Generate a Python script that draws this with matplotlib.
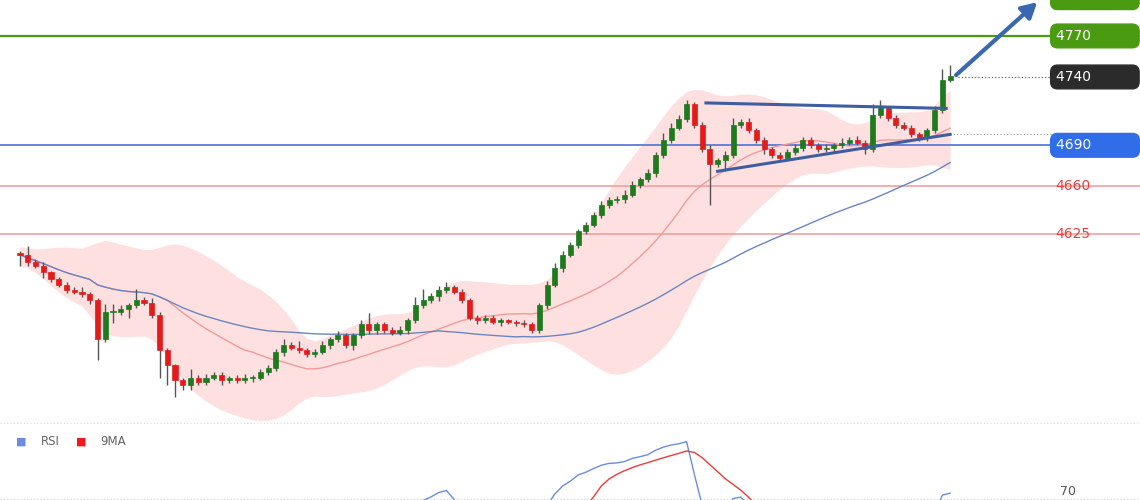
import matplotlib
matplotlib.use("Agg")
import matplotlib.pyplot as plt
import numpy as np
import pandas as pd

closes = [4610,4605,4602,4597,4592,4588,4584,4583,4581,4577,
          4548,4568,4568,4570,4573,4577,4575,4566,4540,4529,
          4518,4515,4520,4517,4520,4522,4518,4520,4518,4520,
          4520,4524,4527,4539,4544,4542,4540,4537,4539,4544,
          4548,4551,4544,4551,4559,4555,4559,4555,4553,4555,
          4562,4573,4577,4580,4584,4586,4583,4577,4564,4562,
          4564,4561,4562,4561,4560,4559,4555,4573,4588,4600,
          4610,4617,4627,4632,4639,4646,4650,4651,4654,4661,
          4665,4670,4683,4694,4703,4709,4720,4705,4687,4676,
          4679,4683,4705,4707,4701,4694,4687,4683,4681,4685,
          4688,4694,4690,4687,4688,4690,4692,4694,4692,4687,
          4712,4717,4710,4705,4703,4698,4695,4701,4716,4738,
          4741]
wick_up = [2,6,2,3,1,2,2,2,3,2, 1,6,6,3,2,8,2,3,2,2,
           1,2,6,2,3,2,2,1,2,3, 2,2,2,2,4,2,5,2,2,3,
           2,3,2,2,3,8,2,2,2,3, 2,6,8,2,3,4,2,2,1,2,
           2,2,2,1,1,2,2,2,3,4, 3,2,2,2,2,3,2,2,3,3,
           2,3,2,5,3,3,3,2,2,3, 2,3,5,2,3,2,2,2,2,2,
           3,2,2,2,3,2,3,2,3,2, 8,6,2,2,2,2,2,2,3,8, 8]
wick_dn = [8,3,2,4,2,2,2,2,2,3, 15,2,8,2,6,2,2,2,20,14,
           12,4,4,2,2,2,3,2,2,2, 3,2,2,2,3,2,2,2,2,2,
           3,2,2,4,2,3,3,2,2,2, 3,2,2,2,4,2,2,2,2,3,
           2,2,3,2,2,2,2,2,3,2, 3,2,2,2,2,2,2,2,3,2,
           2,2,3,2,2,2,2,2,2,30, 2,8,2,2,2,2,3,2,2,2,
           2,2,2,2,2,3,2,2,2,3, 2,2,2,2,2,2,2,2,2,2, 2]
opens = [closes[0] + 1] + closes[:-1]

levels = [4770, 4690, 4660, 4625]
level_colors = ["#4a9a12", "#4d72d8", "#f4a0a0", "#f4a0a0"]
last_price = 4740
pivot_dotted = 4698
tri_top = ([88.5, 119.5], [4721, 4717])
tri_bot = ([90, 120], [4671, 4698])
arrow_pts = ([120.5, 131.5], [4740, 4796])
rsi_level = 70

s = pd.Series(closes, dtype=float)
mid = s.rolling(20, min_periods=1).mean()
sd = s.rolling(20, min_periods=2).std().bfill()
ma_slow = s.rolling(55, min_periods=1).mean()
delta = s.diff().fillna(0)
up = delta.clip(lower=0).ewm(alpha=1/14, adjust=False).mean()
dn = (-delta.clip(upper=0)).ewm(alpha=1/14, adjust=False).mean()
rsi = 100 - 100 / (1 + up / dn.replace(0, 1e-9))
rsi_ma = rsi.rolling(9, min_periods=1).mean()

fig = plt.figure(figsize=(11.4, 5.0), dpi=100)
fig.patch.set_facecolor("white")
ax = fig.add_axes([0, 0.15, 1, 0.85])
ax.set_xlim(-2.58, 144.5)
ax.set_ylim(4485.4, 4796.3)
ax.axis("off")

x = np.arange(len(closes))
band_lo = (mid - 2 * sd).rolling(3, center=True, min_periods=1).mean()
band_hi = (mid + 2 * sd).rolling(3, center=True, min_periods=1).mean()
ax.fill_between(x, band_lo, band_hi, color="#ffd9d9", alpha=0.8, lw=0, zorder=1)
ax.plot(x, mid, color="#f29a9a", lw=1, zorder=2)
ax.plot(x, ma_slow, color="#6a86c0", lw=1, zorder=2)

for lv, c in zip(levels, level_colors):
    ax.axhline(lv, color=c, lw=1.6 if lv == 4770 else 1.2, zorder=1.5)

for i, (o, c) in enumerate(zip(opens, closes)):
    col = "#1d7a1d" if c >= o else "#e41b1b"
    lo, hi = min(o, c), max(o, c)
    ax.vlines(i, lo - wick_dn[i], hi + wick_up[i], color="#555555", lw=1, zorder=3)
    if hi - lo < 0.8:
        hi = lo + 0.8
    ax.bar(i, hi - lo, bottom=lo, width=0.65, color=col, edgecolor=col, lw=0.5, zorder=4)

ax.plot(*tri_top, color="#3f5ea0", lw=2.2, zorder=5)
ax.plot(*tri_bot, color="#3f5ea0", lw=2.2, zorder=5)
ax.annotate("", xy=(arrow_pts[0][1], arrow_pts[1][1]), xytext=(arrow_pts[0][0], arrow_pts[1][0]),
            arrowprops=dict(arrowstyle="-|>,head_length=0.9,head_width=0.5", color="#3a68b0", lw=3),
            zorder=6, annotation_clip=False)
ax.plot([121, 133], [last_price, last_price], color="#444444", lw=0.8, ls=(0, (1, 2)))
ax.plot([120, 144], [pivot_dotted, pivot_dotted], color="#999999", lw=0.8, ls=(0, (1, 2)))

lx = 133.6
def box(y, txt, fc, tc):
    ax.text(lx, y, txt, fontsize=10, color=tc, va="center", ha="left",
            bbox=dict(boxstyle="round,pad=0.35,rounding_size=0.5", fc=fc, ec=fc) if fc else None,
            zorder=7)
box(4798, "                  ", "#4a9a12", "white")
box(4770, "4770          ", "#4a9a12", "white")
box(4740, "4740          ", "#2b2b2b", "white")
box(4690, "4690          ", "#2f6ee8", "white")
box(4660, "4660", None, "#e84040")
box(4625, "4625", None, "#e84040")

ax.axhline(4487, color="#dddddd", lw=0.8, ls=(0, (1, 2)))

ax2 = fig.add_axes([0, 0, 1, 0.15])
ax2.set_xlim(-2.58, 144.5)
ax2.set_ylim(69.5, 100)
ax2.axis("off")
ax2.axhline(rsi_level, color="#cccccc", lw=0.8, ls=(0, (1, 2)))
ax2.plot(x, rsi, color="#6b8de0", lw=1)
ax2.plot(x, rsi_ma, color="#ee3b3b", lw=1)
ax2.text(134.2, rsi_level + 0.3, "70", fontsize=9, color="#555555", va="bottom")
ax2.text(0.014, 0.78, "■", transform=ax2.transAxes, color="#6b8de0", fontsize=8, va="center")
ax2.text(0.036, 0.78, "RSI", transform=ax2.transAxes, color="#666666", fontsize=8.5, va="center")
ax2.text(0.067, 0.78, "■", transform=ax2.transAxes, color="#ee1b1b", fontsize=8, va="center")
ax2.text(0.088, 0.78, "9MA", transform=ax2.transAxes, color="#666666", fontsize=8.5, va="center")

fig.savefig("out.png", dpi=100, facecolor="white")
